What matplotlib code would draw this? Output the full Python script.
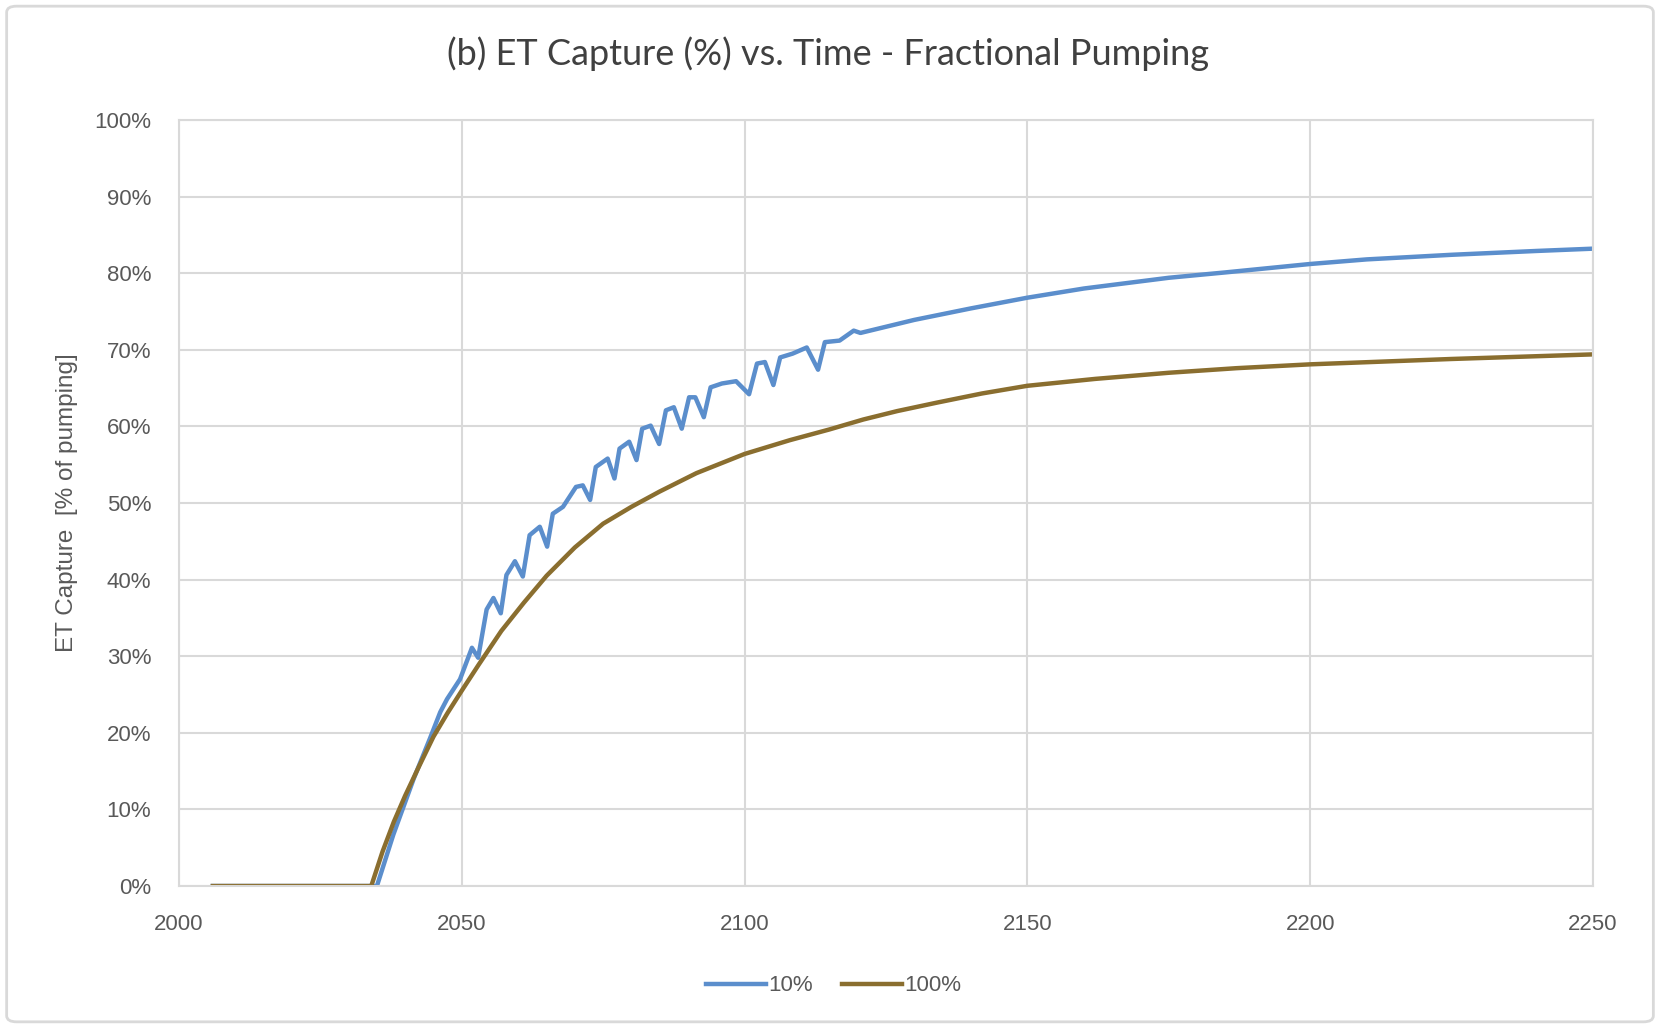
import matplotlib
matplotlib.use("Agg")
import matplotlib.pyplot as plt
from matplotlib.patches import FancyBboxPatch
from matplotlib.ticker import PercentFormatter, MultipleLocator

# values (year, % captured)
years_10 = [2006, 2035, 2037.9, 2041.5, 2044.4, 2046.2, 2047.4, 2049.7, 2051.8, 2052.9,
            2054.4, 2055.6, 2056.9, 2057.9, 2059.4, 2060.8, 2062, 2063.8, 2065.1, 2066.1,
            2067.9, 2070.2, 2071.4, 2072.7, 2073.7, 2075.8, 2077, 2077.9, 2079.6, 2080.9,
            2081.9, 2083.4, 2084.9, 2086.1, 2087.5, 2088.9, 2090.2, 2091.3, 2092.8, 2094,
            2096, 2098.5, 2100.8, 2102.2, 2103.6, 2105.1, 2106.3, 2108.5, 2111, 2113,
            2114.2, 2116.8, 2119.3, 2120.5, 2130, 2140, 2150, 2160, 2175, 2185,
            2200, 2210, 2225, 2240, 2250]
pct_10 = [0, 0, 6.7, 14.0, 19.3, 22.7, 24.4, 27.0, 31.1, 29.8,
          36.1, 37.6, 35.6, 40.6, 42.4, 40.4, 45.8, 46.9, 44.3, 48.6,
          49.5, 52.1, 52.3, 50.4, 54.7, 55.8, 53.2, 57.1, 58.0, 55.6,
          59.7, 60.1, 57.7, 62.1, 62.5, 59.7, 63.8, 63.8, 61.2, 65.1,
          65.6, 65.9, 64.2, 68.2, 68.4, 65.4, 69.0, 69.5, 70.3, 67.4,
          71.0, 71.2, 72.5, 72.2, 73.9, 75.4, 76.8, 78.0, 79.4, 80.1,
          81.2, 81.8, 82.4, 82.9, 83.2]

years_100 = [2006, 2034, 2036, 2038, 2040, 2042.5, 2045, 2047.5, 2050, 2053, 2057, 2061,
             2065, 2070, 2075, 2080, 2085, 2091.5, 2100, 2108, 2115, 2121, 2127, 2134,
             2142, 2150, 2162, 2175, 2187, 2200, 2225, 2250]
pct_100 = [0, 0, 4.5, 8.4, 11.8, 15.7, 19.5, 22.6, 25.5, 28.9, 33.3, 37.0,
           40.5, 44.2, 47.3, 49.5, 51.5, 53.9, 56.4, 58.2, 59.6, 60.9, 62.0, 63.1,
           64.3, 65.3, 66.2, 67.0, 67.6, 68.1, 68.8, 69.4]

x_ticks = [2000, 2050, 2100, 2150, 2200, 2250]

grid_c = "#d9d9d9"
text_c = "#595959"

fig = plt.figure(figsize=(16.6, 10.28), dpi=100)
ax = fig.add_axes([0.1078, 0.1381, 0.8518, 0.7452])

ax.plot(years_10, pct_10, color="#5b8ecc", lw=3.2, label="10%")
ax.plot(years_100, pct_100, color="#8a6e2f", lw=3.2, label="100%")

ax.set_xlim(2000, 2250)
ax.set_ylim(0, 100)
ax.set_xticks(x_ticks)
ax.yaxis.set_major_locator(MultipleLocator(10))
ax.yaxis.set_major_formatter(PercentFormatter(decimals=0))
ax.grid(True, color=grid_c, lw=1.5)
ax.set_axisbelow(True)
for s in ax.spines.values():
    s.set_color(grid_c)
    s.set_linewidth(1.5)
ax.tick_params(length=0, labelsize=16, labelcolor=text_c, pad=20)
for lab in ax.get_xticklabels() + ax.get_yticklabels():
    lab.set_family("Liberation Sans")

ax.set_ylabel("ET Capture  [% of pumping]", fontsize=17.5, color=text_c,
              family="Liberation Sans", labelpad=12)

fig.text(0.499, 0.948, "(b) ET Capture (%) vs. Time - Fractional Pumping",
         ha="center", va="center", fontsize=26, color="#404040", family="Lato")

leg = fig.legend(loc="center", bbox_to_anchor=(0.502, 0.041), ncol=2, frameon=False,
                 fontsize=16, handlelength=2.7, handletextpad=0.1, columnspacing=1.3)
for t in leg.get_texts():
    t.set_color(text_c)
    t.set_family("Liberation Sans")

fig.patches.append(FancyBboxPatch((0.004, 0.006), 0.992, 0.988,
                                  boxstyle="round,pad=0,rounding_size=0.006",
                                  transform=fig.transFigure, fill=False,
                                  edgecolor=grid_c, lw=2))

fig.savefig("out.png", dpi=100)
